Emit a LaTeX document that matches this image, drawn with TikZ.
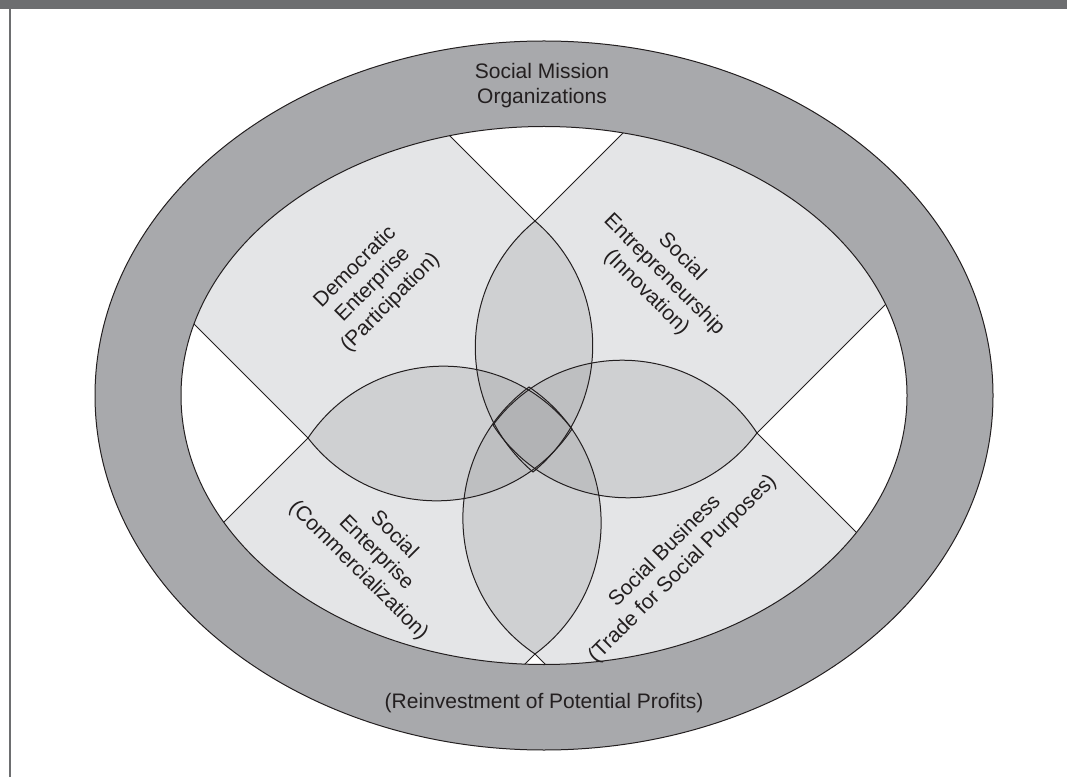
\documentclass[tikz,border=0pt]{standalone}
\usepackage{fontspec}
\setmainfont{Liberation Sans}
\definecolor{RingClr}{HTML}{A8A9AC}
\definecolor{BandClr}{HTML}{E4E5E7}
\definecolor{PetalClr}{HTML}{CFD0D2}
\definecolor{OverlapClr}{HTML}{BEBFC1}
\definecolor{CoreClr}{HTML}{B2B3B5}
\definecolor{FrameClr}{HTML}{6D6E70}
\definecolor{InkClr}{HTML}{231F20}

\newcommand{\petalTop}{(T) to[bend left=50,looseness=1.04] (Ti) to[bend left=50,looseness=1.04] (T) -- cycle}
\newcommand{\petalBot}{(B) to[bend left=54.7,looseness=1.08] (Bi) to[bend left=54.7,looseness=1.08] (B) -- cycle}
\newcommand{\petalLeft}{(L) to[bend left=54.2,looseness=1.07] (Li) to[bend left=54.2,looseness=1.07] (L) -- cycle}
\newcommand{\petalRight}{(R) to[bend left=55.2,looseness=1.08] (Ri) to[bend left=55.2,looseness=1.08] (R) -- cycle}

\begin{document}
\begin{tikzpicture}[x=1pt,y=1pt,line width=1pt,
  txt/.style={font=\fontsize{21}{25}\selectfont,text=InkClr,align=center,inner sep=0pt}]
\useasboundingbox (0,0) rectangle (1067,777);

% frame
\fill[FrameClr] (0,767.5) rectangle (1067,777);
\draw[FrameClr,line width=2pt] (9.5,0) -- (9.5,767.5);

% tips of the petals
\coordinate (T) at (535,556);
\coordinate (Ti) at (533,305);
\coordinate (B) at (535,123);
\coordinate (Bi) at (529,390);
\coordinate (L) at (308,339);
\coordinate (Li) at (572,348);
\coordinate (R) at (757,344);
\coordinate (Ri) at (493,352);

% ring and band
\filldraw[fill=RingClr,draw=InkClr] (544,381.5) ellipse [x radius=449pt,y radius=354.5pt];
\fill[BandClr] (544,381.5) ellipse [x radius=363pt,y radius=269pt];

\begin{scope}
\clip (544,381.5) ellipse [x radius=363pt,y radius=269pt];
\foreach \p/\a/\b in {T/45/135,L/135/225,R/-45/45,B/225/315}{
  \fill[white] (\p) -- +(\a:400pt) -- +({(\a+\b)/2}:560pt) -- +(\b:400pt) -- cycle;
  \draw[InkClr] (\p) -- +(\a:400pt) (\p) -- +(\b:400pt);
}
\end{scope}
\draw[InkClr] (544,381.5) ellipse [x radius=363pt,y radius=269pt];

% petals
\fill[PetalClr] \petalTop;
\fill[PetalClr] \petalBot;
\fill[PetalClr] \petalLeft;
\fill[PetalClr] \petalRight;
\begin{scope}
\clip \petalTop;
\fill[OverlapClr] \petalLeft;
\fill[OverlapClr] \petalRight;
\fill[OverlapClr] \petalBot;
\end{scope}
\begin{scope}
\clip \petalBot;
\fill[OverlapClr] \petalLeft;
\fill[OverlapClr] \petalRight;
\end{scope}
\begin{scope}
\clip \petalLeft;
\fill[OverlapClr] \petalRight;
\end{scope}
\begin{scope}
\clip \petalTop; \clip \petalBot; \clip \petalLeft;
\fill[CoreClr] \petalRight;
\end{scope}
\draw[InkClr] \petalTop;
\draw[InkClr] \petalBot;
\draw[InkClr] \petalLeft;
\draw[InkClr] \petalRight;

% labels
\node[txt] (mission) at (542,691) {Social Mission\\Organizations};
\node[txt] (reinvest) at (544,74) {(Reinvestment of Potential Profits)};
\node[txt,rotate=45] (democratic) at (373,492) {Democratic\\Enterprise\\(Participation)};
\node[txt,rotate=-45] (entrepreneurship) at (664,502) {Social\\Entrepreneurship\\(Innovation)};
\node[txt,rotate=-45] (enterprise) at (376,224) {Social\\Enterprise\\(Commercialization)};
\node[txt,rotate=45] (business) at (674,217) {Social Business\\(Trade for Social Purposes)};
\end{tikzpicture}
\end{document}
